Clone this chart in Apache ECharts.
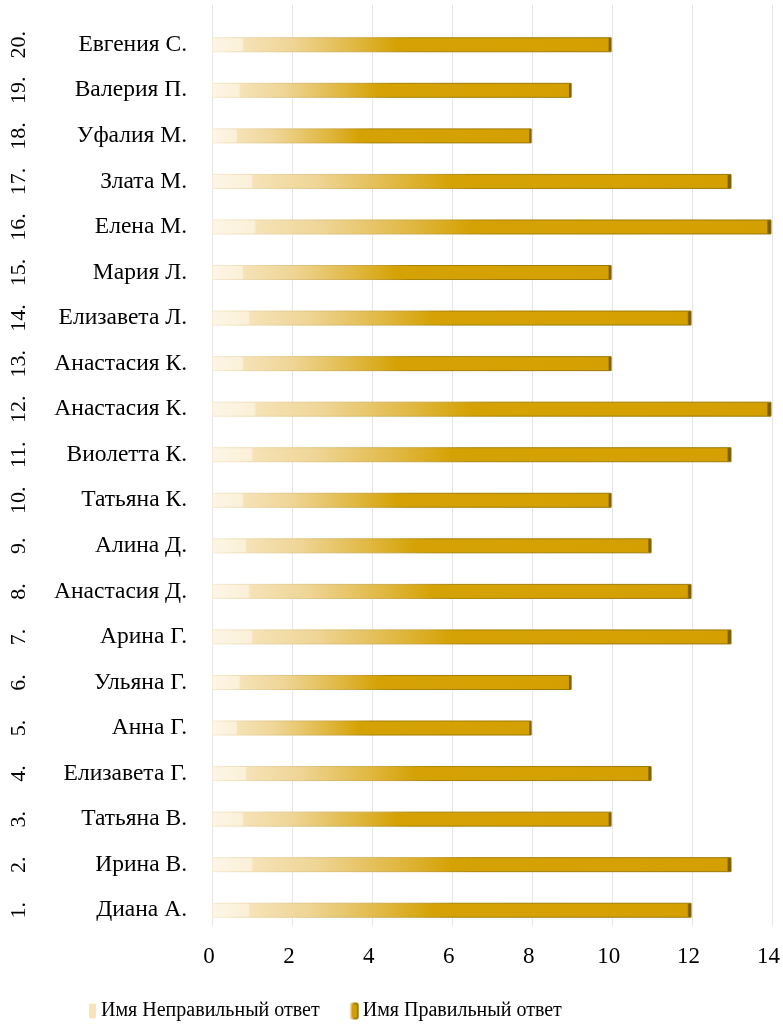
<!DOCTYPE html>
<html>
<head>
<meta charset="utf-8">
<script src="https://cdn.jsdelivr.net/npm/echarts@6/dist/echarts.min.js"></script>
<style>
	html, body { margin: 0; padding: 0; background: #fff; }
	#chart { width: 783px; height: 1034px; }
</style>
</head>
<body>
<div id="chart"></div>
<script>
	// данные снизу вверх (первый элемент — нижняя строка)
	var numbers = ['1.', '2.', '3.', '4.', '5.', '6.', '7.', '8.', '9.', '10.',
		'11.', '12.', '13.', '14.', '15.', '16.', '17.', '18.', '19.', '20.'];
	var names = ['Диана А.', 'Ирина В.', 'Татьяна В.', 'Елизавета Г.', 'Анна Г.', 'Ульяна Г.',
		'Арина Г.', 'Анастасия Д.', 'Алина Д.', 'Татьяна К.', 'Виолетта К.', 'Анастасия К.',
		'Анастасия К.', 'Елизавета Л.', 'Мария Л.', 'Елена М.', 'Злата М.', 'Уфалия М.',
		'Валерия П.', 'Евгения С.'];
	var correct = [12, 13, 10, 11, 8, 9, 13, 12, 11, 10, 13, 14, 10, 12, 10, 14, 13, 8, 9, 10];
	var wrong = [0, 0, 0, 0, 0, 0, 0, 0, 0, 0, 0, 0, 0, 0, 0, 0, 0, 0, 0, 0];
	var xMin = 0, xMax = 14, xStep = 2;

	var serif = '"Liberation Serif", "Times New Roman", serif';

	// заливка столбца: светлое начало -> тёмное золото, тёмный торец справа
	var barFill = new echarts.graphic.LinearGradient(0, 0, 1, 0, [
		{ offset: 0, color: '#fdf6e6' },
		{ offset: 0.075, color: '#fbf0d8' },
		{ offset: 0.08, color: '#f5e2b6' },
		{ offset: 0.2, color: '#efd596' },
		{ offset: 0.36, color: '#e0b740' },
		{ offset: 0.46, color: '#d5a205' },
		{ offset: 0.991, color: '#d4a001' },
		{ offset: 0.994, color: '#7d6103' },
		{ offset: 1, color: '#6a5202' }
	]);
	var barEdge = new echarts.graphic.LinearGradient(0, 0, 1, 0, [
		{ offset: 0, color: '#f6ead0' },
		{ offset: 0.4, color: '#c9a23a' },
		{ offset: 0.5, color: '#a88104' },
		{ offset: 1, color: '#9c7803' }
	]);

	var option = {
		animation: false,
		backgroundColor: '#fff',
		textStyle: { fontFamily: serif },
		grid: [
			{ left: 212, right: 11, top: 22, bottom: 101 },
			{ left: 212, right: 11, top: 5, bottom: 108 }
		],
		legend: {
			left: 84,
			top: 996,
			itemWidth: 7,
			itemHeight: 15,
			itemGap: 30,
			textStyle: { fontFamily: serif, fontSize: 20, color: '#000' },
			data: [
				{ name: 'Имя Неправильный ответ', itemStyle: { color: '#f8e4b8' } },
				{ name: 'Имя Правильный ответ', itemStyle: { color: '#d4a001' } }
			]
		},
		xAxis: [
			{
				gridIndex: 0,
				type: 'value',
				min: xMin, max: xMax, interval: xStep,
				axisLine: { show: false },
				axisTick: { show: false },
				splitLine: { show: false },
				axisLabel: {
					margin: 12, fontSize: 23, color: '#000', fontFamily: serif,
					padding: [0, 6, 0, 0]
				}
			},
			{
				gridIndex: 1,
				type: 'value',
				min: xMin, max: xMax, interval: xStep,
				axisLine: { show: false },
				axisTick: { show: false },
				axisLabel: { show: false },
				splitLine: { lineStyle: { color: '#e6e6e6', width: 1 } }
			}
		],
		yAxis: [
			{
				gridIndex: 0,
				type: 'category',
				data: names,
				axisLine: { show: false },
				axisTick: { show: false },
				axisLabel: { margin: 25, fontSize: 23.5, color: '#000', fontFamily: serif }
			},
			{
				gridIndex: 0,
				type: 'category',
				position: 'left',
				data: numbers,
				axisLine: { show: false },
				axisTick: { show: false },
				axisLabel: {
					margin: 193, rotate: 90, align: 'center', verticalAlign: 'middle',
					fontSize: 22, color: '#000', fontFamily: serif
				}
			},
			{
				gridIndex: 1,
				type: 'category',
				data: names,
				show: false
			}
		],
		series: [
			{
				name: 'Имя Неправильный ответ',
				type: 'bar',
				xAxisIndex: 0, yAxisIndex: 0,
				barWidth: 15,
				barGap: '-100%',
				itemStyle: { color: '#f8e4b8' },
				data: wrong
			},
			{
				name: 'Имя Правильный ответ',
				type: 'bar',
				xAxisIndex: 0, yAxisIndex: 0,
				barWidth: 15,
				barGap: '-100%',
				itemStyle: { color: barFill, borderColor: barEdge, borderWidth: 1 },
				data: correct
			}
		]
	};

	var chart = echarts.init(document.getElementById('chart'));
	chart.setOption(option);
</script>
</body>
</html>
